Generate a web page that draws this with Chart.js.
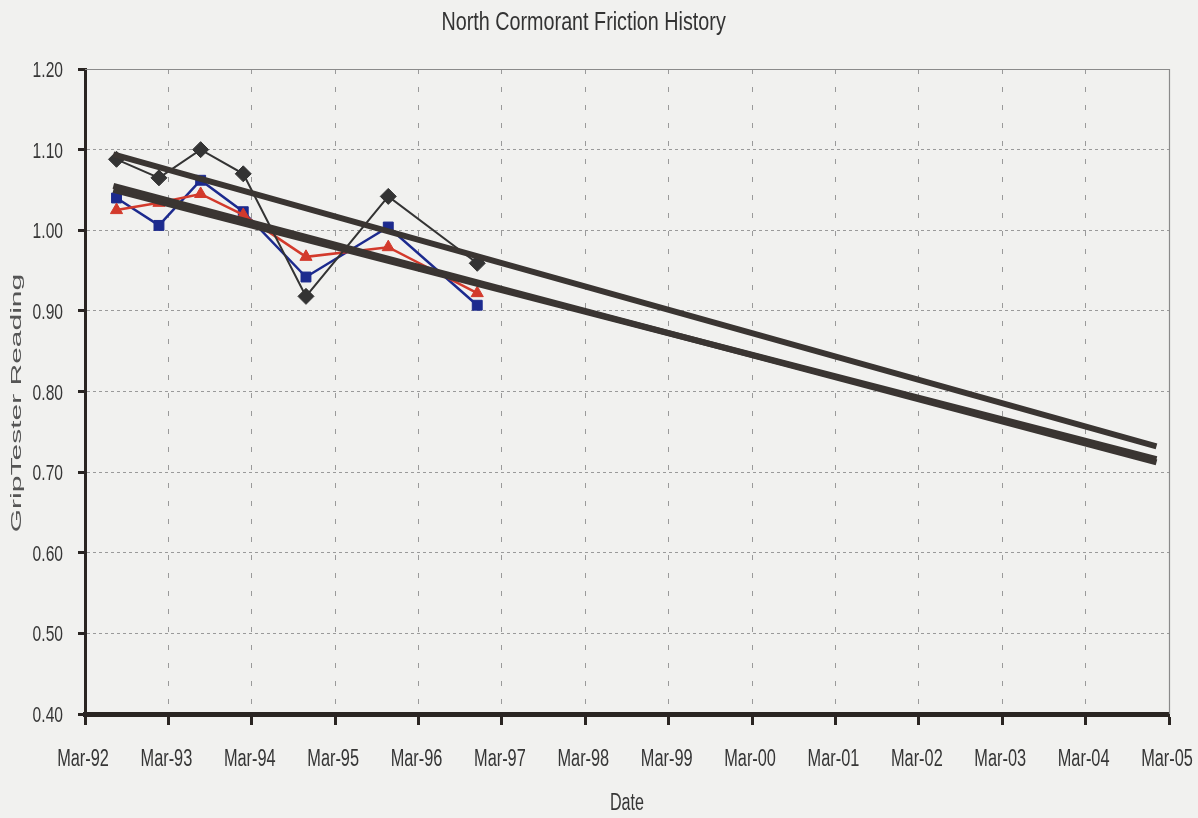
<!DOCTYPE html>
<html>
<head>
<meta charset="utf-8">
<title>North Cormorant Friction History</title>
<script src="https://cdn.jsdelivr.net/npm/chart.js@4/dist/chart.umd.min.js"></script>
<style>
  html, body { margin: 0; padding: 0; background: #f1f1ef; }
  canvas { display: block; }
</style>
</head>
<body>
<canvas id="chart" width="1198" height="818"></canvas>
<script>
// Survey dates, in years after March 1992
const surveyYears = [0.378, 0.887, 1.387, 1.898, 2.65, 3.637, 4.704];

// GripTester readings per survey
const seriesDiamond = [1.088, 1.065, 1.100, 1.070, 0.918, 1.042, 0.959];
const seriesSquare  = [1.040, 1.006, 1.062, 1.023, 0.942, 1.004, 0.907];
const seriesTriangle = [1.025, 1.034, 1.045, 1.019, 0.967, 0.979, 0.922];

// Linear trend lines projected forward (start and end values)
const trendYears = [0.34, 12.85];
const trendDiamond = [1.094, 0.732];
const trendSquare = [1.055, 0.712];
const trendTriangle = [1.050, 0.716];

// Axis labels
const xTickLabels = ['Mar-92', 'Mar-93', 'Mar-94', 'Mar-95', 'Mar-96', 'Mar-97', 'Mar-98',
                     'Mar-99', 'Mar-00', 'Mar-01', 'Mar-02', 'Mar-03', 'Mar-04', 'Mar-05'];
const yTickMin = 0.40, yTickMax = 1.20, yTickStep = 0.10;
const chartTitle = 'North Cormorant Friction History';
const xAxisTitle = 'Date';
const yAxisTitle = 'GripTester Reading';

const sans = "'Liberation Sans', Arial, sans-serif";

const toPoints = (xs, ys) => xs.map((x, i) => ({ x: x, y: ys[i] }));

// Text in the tall, condensed face used throughout the chart
function condensedText(ctx, text, x, y, size, squeeze, align, color) {
  ctx.save();
  ctx.translate(x, y);
  ctx.scale(squeeze, 1);
  ctx.font = size + 'px ' + sans;
  ctx.fillStyle = color;
  ctx.textAlign = align;
  ctx.textBaseline = 'alphabetic';
  ctx.fillText(text, 0, 0);
  ctx.restore();
}

const background = {
  id: 'background',
  beforeDraw(chart) {
    const ctx = chart.ctx;
    ctx.save();
    ctx.fillStyle = '#f1f1ef';
    ctx.fillRect(0, 0, chart.width, chart.height);
    ctx.restore();
  }
};

// Thin frame on the top and right of the plot area
const frame = {
  id: 'frame',
  beforeDatasetsDraw(chart) {
    const { ctx, chartArea: a } = chart;
    ctx.save();
    ctx.strokeStyle = '#8a8a8a';
    ctx.lineWidth = 1.2;
    ctx.beginPath();
    ctx.moveTo(a.left, a.top + 0.5);
    ctx.lineTo(a.right + 0.5, a.top + 0.5);
    ctx.lineTo(a.right + 0.5, a.bottom);
    ctx.stroke();
    ctx.restore();
  }
};

// Heading, tick labels and axis titles, placed from the chart's own scales
const labels = {
  id: 'labels',
  afterDraw(chart) {
    const { ctx, chartArea: a, scales } = chart;
    const ink = '#363636';

    condensedText(ctx, chartTitle, a.left + (a.right - a.left) * 0.460, 30, 25, 0.79, 'center', '#333333');

    scales.x.ticks.forEach((t) => {
      const px = scales.x.getPixelForValue(t.value);
      condensedText(ctx, xTickLabels[t.value], px - 2, 766, 23, 0.71, 'center', ink);
    });

    scales.y.ticks.forEach((t) => {
      const py = scales.y.getPixelForValue(t.value);
      condensedText(ctx, t.value.toFixed(2), 63, py + 8, 22, 0.71, 'right', ink);
    });

    condensedText(ctx, xAxisTitle, (a.left + a.right) / 2, 810, 23, 0.7, 'center', ink);

    ctx.save();
    ctx.translate(17, 403);
    ctx.rotate(-Math.PI / 2);
    ctx.scale(2.0, 1);
    ctx.font = '15px ' + sans;
    ctx.fillStyle = '#555555';
    ctx.textAlign = 'center';
    ctx.textBaseline = 'middle';
    ctx.fillText(yAxisTitle, 0, 0);
    ctx.restore();
  }
};

new Chart(document.getElementById('chart'), {
  type: 'line',
  data: {
    datasets: [
      {
        label: 'Trend 1',
        data: toPoints(trendYears, trendDiamond),
        borderColor: '#3a3532',
        borderWidth: 6,
        pointRadius: 0,
        order: 0
      },
      {
        label: 'Trend 2',
        data: toPoints(trendYears, trendSquare),
        borderColor: '#3a3532',
        borderWidth: 6,
        pointRadius: 0,
        order: 0
      },
      {
        label: 'Trend 3',
        data: toPoints(trendYears, trendTriangle),
        borderColor: '#3a3532',
        borderWidth: 6,
        pointRadius: 0,
        order: 0
      },
      {
        label: 'Diamond',
        data: toPoints(surveyYears, seriesDiamond),
        borderColor: '#333333',
        backgroundColor: '#333333',
        borderWidth: 2,
        pointStyle: 'rectRot',
        pointRadius: 8,
        pointBorderWidth: 1,
        order: 1
      },
      {
        label: 'Triangle',
        data: toPoints(surveyYears, seriesTriangle),
        borderColor: '#d33a2c',
        backgroundColor: '#d33a2c',
        borderWidth: 2.5,
        pointStyle: 'triangle',
        pointRadius: 7,
        pointBorderWidth: 1,
        order: 2
      },
      {
        label: 'Square',
        data: toPoints(surveyYears, seriesSquare),
        borderColor: '#1c2a8e',
        backgroundColor: '#1c2a8e',
        borderWidth: 2.5,
        pointStyle: 'rect',
        pointRadius: 7,
        pointBorderWidth: 1,
        order: 3
      }
    ]
  },
  options: {
    responsive: false,
    animation: false,
    devicePixelRatio: 1,
    layout: { padding: { top: 69, right: 29, left: 0, bottom: 0 } },
    plugins: {
      legend: { display: false },
      tooltip: { enabled: false },
      title: { display: false }
    },
    elements: { line: { tension: 0, borderCapStyle: 'butt' } },
    scales: {
      x: {
        type: 'linear',
        min: 0,
        max: xTickLabels.length - 1,
        afterFit(scale) { scale.height = 104; },
        ticks: { display: false, stepSize: 1, autoSkip: false },
        grid: {
          color: '#9a9a9a',
          lineWidth: 1,
          tickLength: 11,
          tickWidth: 3,
          tickColor: '#2a2522'
        },
        border: { display: true, color: '#2a2522', width: 5, dash: [5, 13] }
      },
      y: {
        type: 'linear',
        min: yTickMin,
        max: yTickMax,
        afterFit(scale) { scale.width = 85; },
        ticks: { display: false, stepSize: yTickStep },
        grid: {
          color: '#9a9a9a',
          lineWidth: 1,
          tickLength: 7,
          tickWidth: 3,
          tickColor: '#2a2522'
        },
        border: { display: true, color: '#2a2522', width: 3, dash: [3, 3] }
      }
    }
  },
  plugins: [background, frame, labels]
});
</script>
</body>
</html>
